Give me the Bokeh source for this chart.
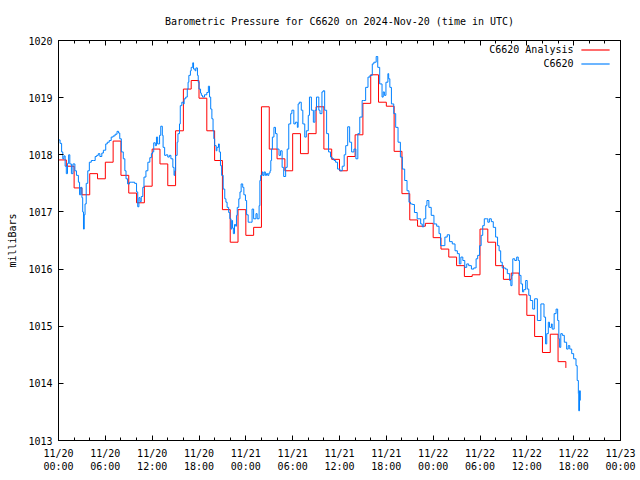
from bokeh.plotting import figure
from bokeh.models import Range1d, FixedTicker, LinearAxis, Label, BoxAnnotation
from bokeh.embed import file_html
from bokeh.resources import INLINE

title_text = "Barometric Pressure for C6620 on 2024-Nov-20 (time in UTC)"
y_label = "milliBars"
series_names = ["C6620 Analysis", "C6620"]
series_colors = ["#ff0000", "#0080ff"]

# x axis: hours since 2024-11-20 00:00 UTC
x_tick_hours = [0, 6, 12, 18, 24, 30, 36, 42, 48, 54, 60, 66, 72]
x_tick_labels = ["11/20\n00:00", "11/20\n06:00", "11/20\n12:00", "11/20\n18:00",
                 "11/21\n00:00", "11/21\n06:00", "11/21\n12:00", "11/21\n18:00",
                 "11/22\n00:00", "11/22\n06:00", "11/22\n12:00", "11/22\n18:00",
                 "11/23\n00:00"]
x_minor_hours = [2, 4, 8, 10, 14, 16, 20, 22, 26, 28, 32, 34, 38, 40, 44, 46,
                 50, 52, 56, 58, 62, 64, 68, 70]
y_ticks = [1013, 1014, 1015, 1016, 1017, 1018, 1019, 1020]

# hourly analysis values
analysis_hours = list(range(66))
analysis_mb = [
    1017.91, 1017.80, 1017.42, 1017.30, 1017.67, 1017.58, 1017.87, 1018.24, 1017.64, 1017.33,
    1017.16, 1017.45, 1018.10, 1017.84, 1017.46, 1018.42, 1019.15, 1019.30, 1018.99, 1018.42,
    1017.90, 1017.04, 1016.47, 1017.04, 1016.59, 1016.73, 1018.84, 1018.10, 1017.93, 1017.72,
    1018.37, 1018.02, 1018.37, 1018.84, 1018.10, 1017.92, 1017.72, 1017.97, 1018.35, 1018.90,
    1019.40, 1018.92, 1018.85, 1018.06, 1017.32, 1016.86, 1016.75, 1016.80, 1016.55, 1016.35,
    1016.21, 1016.06, 1015.87, 1015.90, 1016.70, 1016.47, 1016.06, 1015.82, 1015.93, 1015.55,
    1015.19, 1014.82, 1014.54, 1014.86, 1014.38, 1014.27,
]

# station observations
station_hours = [
    0.0, 0.2, 0.4, 0.55, 0.7, 0.85, 1.0, 1.15, 1.3, 1.45, 1.65, 1.85, 2.1, 2.3, 2.55, 2.7, 2.85,
    3.0, 3.1, 3.2, 3.3, 3.4, 3.55, 3.75, 3.95, 4.2, 4.45, 4.7, 4.9, 5.1, 5.3, 5.55, 5.75,
    6.05, 6.25, 6.5, 6.75, 7.0, 7.25, 7.5, 7.7, 7.85, 8.05, 8.3, 8.5, 8.65, 8.85, 9.1, 9.4,
    9.75, 10.0, 10.15, 10.3, 10.45, 10.6, 10.8, 10.95, 11.2, 11.45, 11.7, 11.9, 12.05, 12.2,
    12.4, 12.55, 12.7, 12.95, 13.1, 13.3, 13.4, 13.6, 13.8, 14.0, 14.2, 14.4, 14.65, 14.8,
    14.9, 15.0, 15.2, 15.3, 15.5, 15.6, 15.8, 16.0, 16.1, 16.3, 16.5, 16.6, 16.7, 16.9, 17.0,
    17.2, 17.3, 17.5, 17.6, 17.8, 17.9, 18.0, 18.2, 18.3, 18.45, 18.7, 19.0, 19.2, 19.35,
    19.5, 19.65, 19.8, 19.9, 20.0, 20.2, 20.3, 20.5, 20.6, 20.75, 20.9, 21.1, 21.3, 21.45,
    21.6, 21.8, 21.95, 22.1, 22.2, 22.3, 22.4, 22.55, 22.7, 22.8, 22.9, 23.1, 23.25, 23.4,
    23.6, 23.75, 23.95, 24.1, 24.3, 24.6, 24.8, 25.0, 25.3, 25.45, 25.7, 25.8, 25.9, 26.1,
    26.2, 26.35, 26.5, 26.65, 26.8, 26.95, 27.1, 27.2, 27.3, 27.4, 27.6, 27.8, 28.0, 28.25,
    28.45, 28.65, 28.85, 29.1, 29.3, 29.5, 29.75, 29.9, 30.15, 30.35, 30.6, 30.7, 30.85,
    31.1, 31.3, 31.55, 31.75, 32.0, 32.15, 32.4, 32.65, 32.85, 33.05, 33.35, 33.5, 33.75,
    33.9, 34.1, 34.35, 34.6, 34.85, 35.05, 35.3, 35.5, 35.75, 36.05, 36.35, 36.6, 36.8,
    37.05, 37.3, 37.55, 37.85, 38.1, 38.35, 38.6, 38.9, 39.1, 39.35, 39.65, 39.9, 40.2,
    40.4, 40.7, 40.9, 41.15, 41.45, 41.6, 41.75, 41.95, 42.2, 42.3, 42.45, 42.65, 42.95,
    43.2, 43.5, 43.8, 44.05, 44.35, 44.65, 44.9, 45.1, 45.35, 45.6, 45.95, 46.4, 46.6,
    46.8, 47.05, 47.2, 47.45, 47.75, 48.1, 48.45, 48.75, 48.95, 49.25, 49.5, 49.8, 50.1,
    50.45, 50.8, 51.1, 51.35, 51.55, 51.8, 52.05, 52.3, 52.55, 52.9, 53.2, 53.5, 53.7,
    53.95, 54.15, 54.35, 54.55, 54.8, 55.0, 55.2, 55.45, 55.7, 56.0, 56.25, 56.45, 56.65,
    56.85, 57.25, 57.5, 57.8, 57.95, 58.1, 58.2, 58.45, 58.7, 58.9, 59.05, 59.25, 59.45,
    59.6, 59.85, 60.05, 60.25, 60.45, 60.75, 61.0, 61.35, 61.55, 61.8, 61.95, 62.2, 62.4,
    62.55, 62.75, 62.9, 63.15, 63.25, 63.5, 63.75, 63.95, 64.1, 64.2, 64.35, 64.55, 64.8,
    65.1, 65.3, 65.5, 65.75, 66.0, 66.3, 66.45, 66.6, 66.65, 66.75, 66.85,
]
station_mb = [
    1018.26, 1018.20, 1018.05, 1017.93, 1017.98, 1017.80, 1017.67, 1017.85, 1018.00, 1017.84,
    1017.67, 1017.84, 1017.72, 1017.64, 1017.52, 1017.30, 1017.43, 1017.25, 1017.00, 1016.70,
    1016.95, 1017.14, 1017.50, 1017.72, 1017.87, 1017.90, 1017.90, 1017.97, 1017.99, 1018.02,
    1017.97, 1018.03, 1018.08, 1018.19, 1018.22, 1018.25, 1018.31, 1018.33, 1018.36, 1018.41,
    1018.38, 1018.28, 1018.05, 1017.93, 1017.72, 1017.58, 1017.49, 1017.52, 1017.52, 1017.50,
    1017.35, 1017.09, 1017.25, 1017.18, 1017.27, 1017.43, 1017.61, 1017.72, 1017.87, 1017.95,
    1018.02, 1018.05, 1018.21, 1018.16, 1018.31, 1018.19, 1018.34, 1018.50, 1018.34, 1018.13,
    1017.99, 1018.00, 1017.96, 1017.99, 1017.93, 1017.78, 1017.64, 1017.72, 1017.99, 1018.22,
    1018.37, 1018.54, 1018.86, 1018.92, 1018.89, 1018.98, 1019.01, 1019.15, 1019.27, 1019.39,
    1019.47, 1019.53, 1019.61, 1019.50, 1019.47, 1019.52, 1019.39, 1019.27, 1019.15, 1019.08,
    1019.04, 1019.01, 1019.05, 1019.09, 1019.20, 1019.01, 1018.80, 1018.63, 1018.42, 1018.28,
    1018.16, 1018.07, 1018.13, 1018.19, 1018.05, 1017.81, 1017.64, 1017.40, 1017.23, 1017.17,
    1017.08, 1016.99, 1016.88, 1016.70, 1016.85, 1016.72, 1016.62, 1016.78, 1016.75, 1016.94,
    1017.08, 1017.23, 1017.35, 1017.49, 1017.43, 1017.30, 1017.20, 1016.95, 1016.82, 1016.82,
    1017.05, 1016.88, 1016.97, 1016.88, 1017.11, 1017.55, 1017.64, 1017.70, 1017.64, 1017.70,
    1017.64, 1017.67, 1017.64, 1017.68, 1017.72, 1017.90, 1018.10, 1018.31, 1018.48, 1018.37,
    1018.10, 1017.99, 1018.07, 1017.78, 1017.62, 1017.78, 1018.10, 1018.54, 1018.72, 1018.78,
    1018.54, 1018.57, 1018.48, 1018.89, 1018.92, 1018.78, 1018.54, 1018.31, 1018.42, 1018.69,
    1019.01, 1018.78, 1018.57, 1018.78, 1019.01, 1018.78, 1018.72, 1019.10, 1019.12, 1018.78,
    1018.37, 1018.05, 1017.96, 1017.93, 1017.90, 1017.87, 1017.75, 1017.72, 1017.80, 1018.00,
    1018.16, 1018.49, 1018.22, 1018.05, 1018.10, 1017.93, 1018.37, 1018.66, 1018.95, 1018.95,
    1019.18, 1019.36, 1019.39, 1019.59, 1019.62, 1019.72, 1019.53, 1019.24, 1019.01, 1019.10,
    1019.04, 1019.27, 1019.42, 1019.33, 1019.18, 1018.89, 1018.72, 1018.48, 1018.22, 1017.96,
    1017.75, 1017.55, 1017.37, 1017.17, 1017.14, 1017.13, 1016.99, 1016.88, 1016.79, 1016.74,
    1016.88, 1017.11, 1017.20, 1017.08, 1016.94, 1016.79, 1016.75, 1016.62, 1016.41, 1016.41,
    1016.56, 1016.60, 1016.48, 1016.44, 1016.32, 1016.27, 1016.09, 1016.21, 1016.15, 1016.03,
    1016.09, 1016.06, 1016.00, 1016.02, 1016.18, 1016.24, 1016.41, 1016.59, 1016.76, 1016.88,
    1016.88, 1016.82, 1016.88, 1016.83, 1016.73, 1016.56, 1016.41, 1016.32, 1016.12, 1016.02,
    1016.00, 1015.92, 1015.80, 1015.71, 1015.89, 1016.18, 1016.15, 1016.21, 1016.15, 1015.89,
    1015.74, 1015.60, 1015.64, 1015.80, 1015.65, 1015.54, 1015.45, 1015.30, 1015.48, 1015.10,
    1015.10, 1015.39, 1015.39, 1015.16, 1014.69, 1014.87, 1015.07, 1014.98, 1015.04, 1014.95,
    1015.22, 1015.30, 1015.10, 1014.78, 1014.63, 1014.87, 1014.84, 1014.72, 1014.60, 1014.66,
    1014.60, 1014.52, 1014.43, 1014.31, 1014.05, 1013.82, 1013.52, 1013.87, 1013.70,
]

FONT = "DejaVu Sans Mono"
FS = "10px"

p = figure(width=640, height=480, x_range=Range1d(0, 72), y_range=Range1d(1013, 1020),
           output_backend="svg", toolbar_location=None, title=title_text,
           min_border_left=58, min_border_right=20, min_border_top=40, min_border_bottom=40)
p.grid.visible = False
p.outline_line_color = "black"
p.outline_line_width = 1
p.background_fill_color = "white"
p.border_fill_color = "white"

p.title.align = "center"
p.title.text_font = FONT
p.title.text_font_size = FS
p.title.text_font_style = "normal"
p.title.text_color = "black"
p.title.standoff = 27


def style_axis(ax, show_labels=True):
    ax.major_tick_in = 5
    ax.major_tick_out = 0
    ax.minor_tick_in = 3
    ax.minor_tick_out = 0
    ax.axis_line_color = "black"
    ax.major_tick_line_color = "black"
    ax.minor_tick_line_color = "black"
    ax.major_label_text_font = FONT
    ax.major_label_text_font_size = FS if show_labels else "0px"
    ax.major_label_text_color = "black"


xax = p.xaxis[0]
xax.ticker = FixedTicker(ticks=x_tick_hours, minor_ticks=x_minor_hours)
xax.major_label_overrides = dict(zip(x_tick_hours, x_tick_labels))
style_axis(xax)
xax.major_label_standoff = 7

yax = p.yaxis[0]
yax.ticker = FixedTicker(ticks=y_ticks, minor_ticks=[])
style_axis(yax)
yax.major_label_standoff = 6
yax.axis_label = y_label
yax.axis_label_text_font = FONT
yax.axis_label_text_font_size = FS
yax.axis_label_text_font_style = "normal"
yax.axis_label_text_color = "black"
yax.axis_label_standoff = 7

# mirrored tick marks on the top and right edges, without labels
top = LinearAxis(ticker=FixedTicker(ticks=x_tick_hours, minor_ticks=x_minor_hours))
style_axis(top, False)
top.major_label_standoff = 0
top.major_label_overrides = {t: "" for t in x_tick_hours}
p.add_layout(top, "above")

right = LinearAxis(ticker=FixedTicker(ticks=y_ticks, minor_ticks=[]))
style_axis(right, False)
right.major_label_standoff = 0
right.major_label_overrides = {t: "" for t in y_ticks}
p.add_layout(right, "right")

p.step(analysis_hours, analysis_mb, mode="after", line_color=series_colors[0], line_width=1)
p.step(station_hours, station_mb, mode="after", line_color=series_colors[1], line_width=1)

# gnuplot-style key: text right-aligned, sample line to its right
legend_rows_y = [391, 377]
for name, color, yy in zip(series_names, series_colors, legend_rows_y):
    p.add_layout(Label(x=515, y=yy, x_units="screen", y_units="screen", text=name,
                       text_align="right", text_baseline="middle",
                       text_font=FONT, text_font_size=FS, text_color="black"))
    p.add_layout(BoxAnnotation(left=523, right=551, bottom=yy - 1, top=yy,
                               left_units="screen", right_units="screen",
                               bottom_units="screen", top_units="screen",
                               fill_color=color, fill_alpha=1.0,
                               line_color=color, line_width=0.5))

open("out.html", "w").write(file_html(p, INLINE))
